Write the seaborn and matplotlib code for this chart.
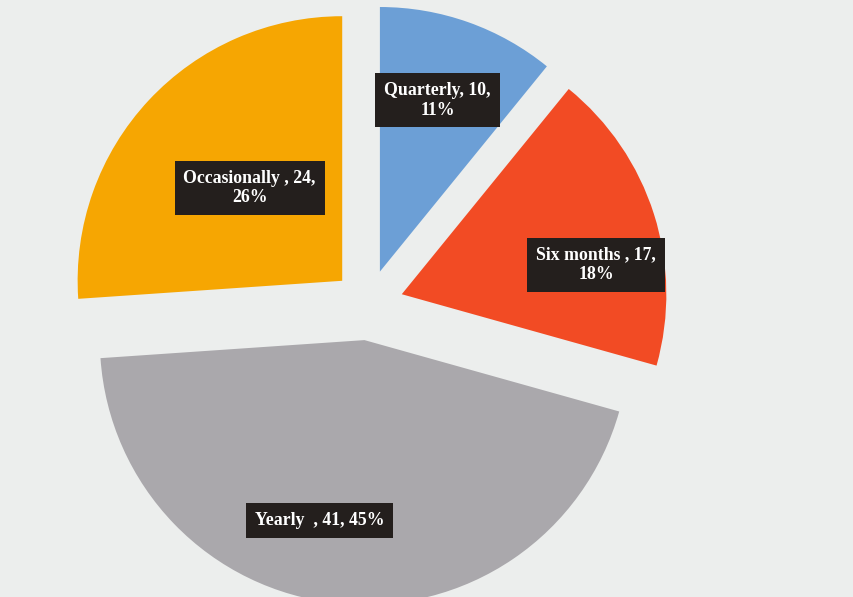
import numpy as np
import matplotlib
matplotlib.use("Agg")
import matplotlib.pyplot as plt
import seaborn as sns

# ---- data ----
categories = ["Quarterly", "Six months ", "Yearly  ", "Occasionally "]
values = [10, 17, 41, 24]
colors = ["#6c9fd6", "#f24b24", "#aaa8ac", "#f6a602"]

# ---- style ----
explode = [0.135, 0.135, 0.135, 0.135]
label_break = [True, True, False, True]
label_r = [0.69, 0.75, 0.71, 0.50]
label_dtheta = [1, -9, -8, -2]

sns.set_theme(style="white")
plt.rcParams["font.family"] = ["Liberation Serif", "DejaVu Serif"]

fig = plt.figure(figsize=(8.54, 5.97), dpi=100)
fig.patch.set_facecolor("#eceeed")
ax = fig.add_axes([0, 0, 1, 1])
ax.set_facecolor("#eceeed")

wedges, _ = ax.pie(values, colors=colors, startangle=90, counterclock=False,
                   explode=explode, radius=1.01,
                   wedgeprops=dict(linewidth=0))

total = sum(values)
for w, cat, v, brk, r, dt in zip(wedges, categories, values, label_break, label_r, label_dtheta):
    pct = round(100 * v / total)
    sep = "\n" if brk else " "
    txt = f"{cat}, {v},{sep}{pct}%"
    th = np.deg2rad((w.theta1 + w.theta2) / 2 + dt)
    cx, cy = w.center
    ax.text(cx + r * np.cos(th), cy + r * np.sin(th), txt,
            ha="center", va="center", color="white", fontsize=12.8,
            fontweight="bold", linespacing=1.2,
            bbox=dict(boxstyle="square,pad=0.5", facecolor="#241f1d",
                      edgecolor="none"))

ax.set_xlim(-1.405, 1.855)
ax.set_ylim(-1.115, 1.164)
ax.set_aspect("auto")
ax.axis("off")

fig.savefig("out.png", dpi=100, facecolor=fig.get_facecolor())
